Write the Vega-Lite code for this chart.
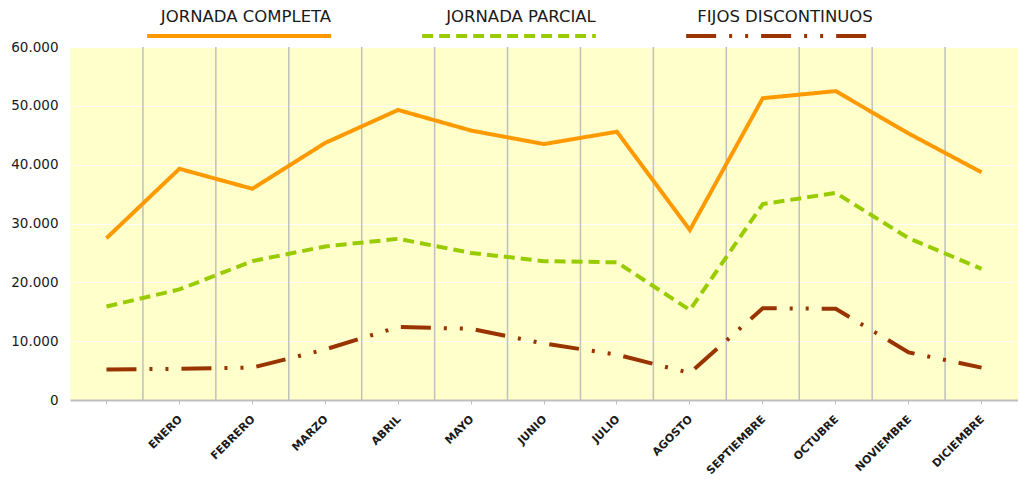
{
  "$schema": "https://vega.github.io/schema/vega-lite/v6.json",
  "width": 948,
  "height": 353,
  "padding": {"left": 10, "top": 28, "right": 0, "bottom": 0},
  "config": {
    "locale": {"number": {"decimal": ",", "thousands": ".", "grouping": [3], "currency": ["", " €"]}},
    "view": {"fill": "#FFFFCC", "stroke": null},
    "font": "DejaVu Sans"
  },
  "data": {
    "values": [
      {"mes": " ", "JORNADA COMPLETA": 27500, "JORNADA PARCIAL": 15900, "FIJOS DISCONTINUOS": 5200},
      {"mes": "ENERO", "JORNADA COMPLETA": 39300, "JORNADA PARCIAL": 18800, "FIJOS DISCONTINUOS": 5300},
      {"mes": "FEBRERO", "JORNADA COMPLETA": 35900, "JORNADA PARCIAL": 23600, "FIJOS DISCONTINUOS": 5500},
      {"mes": "MARZO", "JORNADA COMPLETA": 43700, "JORNADA PARCIAL": 26100, "FIJOS DISCONTINUOS": 8600},
      {"mes": "ABRIL", "JORNADA COMPLETA": 49300, "JORNADA PARCIAL": 27400, "FIJOS DISCONTINUOS": 12400},
      {"mes": "MAYO", "JORNADA COMPLETA": 45800, "JORNADA PARCIAL": 25000, "FIJOS DISCONTINUOS": 12100},
      {"mes": "JUNIO", "JORNADA COMPLETA": 43500, "JORNADA PARCIAL": 23600, "FIJOS DISCONTINUOS": 9600},
      {"mes": "JULIO", "JORNADA COMPLETA": 45600, "JORNADA PARCIAL": 23400, "FIJOS DISCONTINUOS": 7700},
      {"mes": "AGOSTO", "JORNADA COMPLETA": 28900, "JORNADA PARCIAL": 15300, "FIJOS DISCONTINUOS": 4600},
      {"mes": "SEPTIEMBRE", "JORNADA COMPLETA": 51300, "JORNADA PARCIAL": 33300, "FIJOS DISCONTINUOS": 15600},
      {"mes": "OCTUBRE", "JORNADA COMPLETA": 52500, "JORNADA PARCIAL": 35200, "FIJOS DISCONTINUOS": 15500},
      {"mes": "NOVIEMBRE", "JORNADA COMPLETA": 45300, "JORNADA PARCIAL": 27500, "FIJOS DISCONTINUOS": 8100},
      {"mes": "DICIEMBRE", "JORNADA COMPLETA": 38700, "JORNADA PARCIAL": 22300, "FIJOS DISCONTINUOS": 5500}
    ]
  },
  "layer": [
    {
      "transform": [{"filter": "datum.mes !== ' '"}],
      "mark": {"type": "rule", "color": "#BFBFBF", "strokeWidth": 1.5},
      "encoding": {
        "x": {
          "field": "mes", "type": "ordinal", "bandPosition": 0,
          "scale": {"type": "band", "paddingInner": 0, "paddingOuter": 0,
            "domain": [" ", "ENERO", "FEBRERO", "MARZO", "ABRIL", "MAYO", "JUNIO", "JULIO", "AGOSTO", "SEPTIEMBRE", "OCTUBRE", "NOVIEMBRE", "DICIEMBRE"]}
        }
      }
    },
    {
      "transform": [{"fold": ["JORNADA COMPLETA", "JORNADA PARCIAL", "FIJOS DISCONTINUOS"], "as": ["serie", "valor"]}],
      "mark": {"type": "line", "strokeWidth": 4, "strokeJoin": "miter"},
      "encoding": {
        "x": {
          "field": "mes", "type": "ordinal", "bandPosition": 0.5,
          "scale": {"type": "band", "paddingInner": 0, "paddingOuter": 0,
            "domain": [" ", "ENERO", "FEBRERO", "MARZO", "ABRIL", "MAYO", "JUNIO", "JULIO", "AGOSTO", "SEPTIEMBRE", "OCTUBRE", "NOVIEMBRE", "DICIEMBRE"]},
          "axis": {
            "title": null, "bandPosition": 0.5, "grid": false, "zindex": 1,
            "domainColor": "#BFBFBF", "domainWidth": 2,
            "ticks": true, "tickColor": "#BFBFBF", "tickSize": 4, "tickWidth": 1,
            "labelAngle": -45, "labelAlign": "right", "labelBaseline": "top",
            "labelFont": "DejaVu Sans", "labelFontSize": 11, "labelFontWeight": "bold",
            "labelColor": "#1a1a1a", "labelPadding": 9, "labelOffset": -3
          }
        },
        "y": {
          "field": "valor", "type": "quantitative",
          "scale": {"domain": [0, 60000], "nice": false},
          "axis": {
            "title": null, "values": [0, 10000, 20000, 30000, 40000, 50000, 60000],
            "format": ",d", "grid": true, "gridColor": "#FFFFFF", "gridWidth": 1,
            "domain": false, "ticks": false, "labelPadding": 12,
            "labelFont": "DejaVu Sans", "labelFontSize": 13.5, "labelColor": "#1a1a1a"
          }
        },
        "color": {
          "field": "serie", "type": "nominal",
          "scale": {"domain": ["JORNADA COMPLETA", "JORNADA PARCIAL", "FIJOS DISCONTINUOS"], "range": ["#FF9900", "#99CC00", "#993300"]},
          "legend": {
            "title": null, "orient": "none", "legendX": 75, "legendY": -19,
            "direction": "horizontal", "columns": 3, "columnPadding": 88,
            "symbolType": "stroke", "symbolSize": 34500, "symbolStrokeWidth": 4,
            "clipHeight": 16,
            "labelFont": "DejaVu Sans", "labelFontSize": 16.5, "labelColor": "#1a1a1a",
            "labelAlign": "center", "labelOffset": 0, "labelLimit": 400,
            "encode": {"labels": {"update": {"dx": {"value": -89}, "dy": {"value": -19}}}}
          }
        },
        "strokeDash": {
          "field": "serie", "type": "nominal",
          "scale": {"domain": ["JORNADA COMPLETA", "JORNADA PARCIAL", "FIJOS DISCONTINUOS"], "range": [[1, 0], [11, 6], [30, 13, 3, 13, 3, 13]]}
        }
      }
    }
  ]
}
